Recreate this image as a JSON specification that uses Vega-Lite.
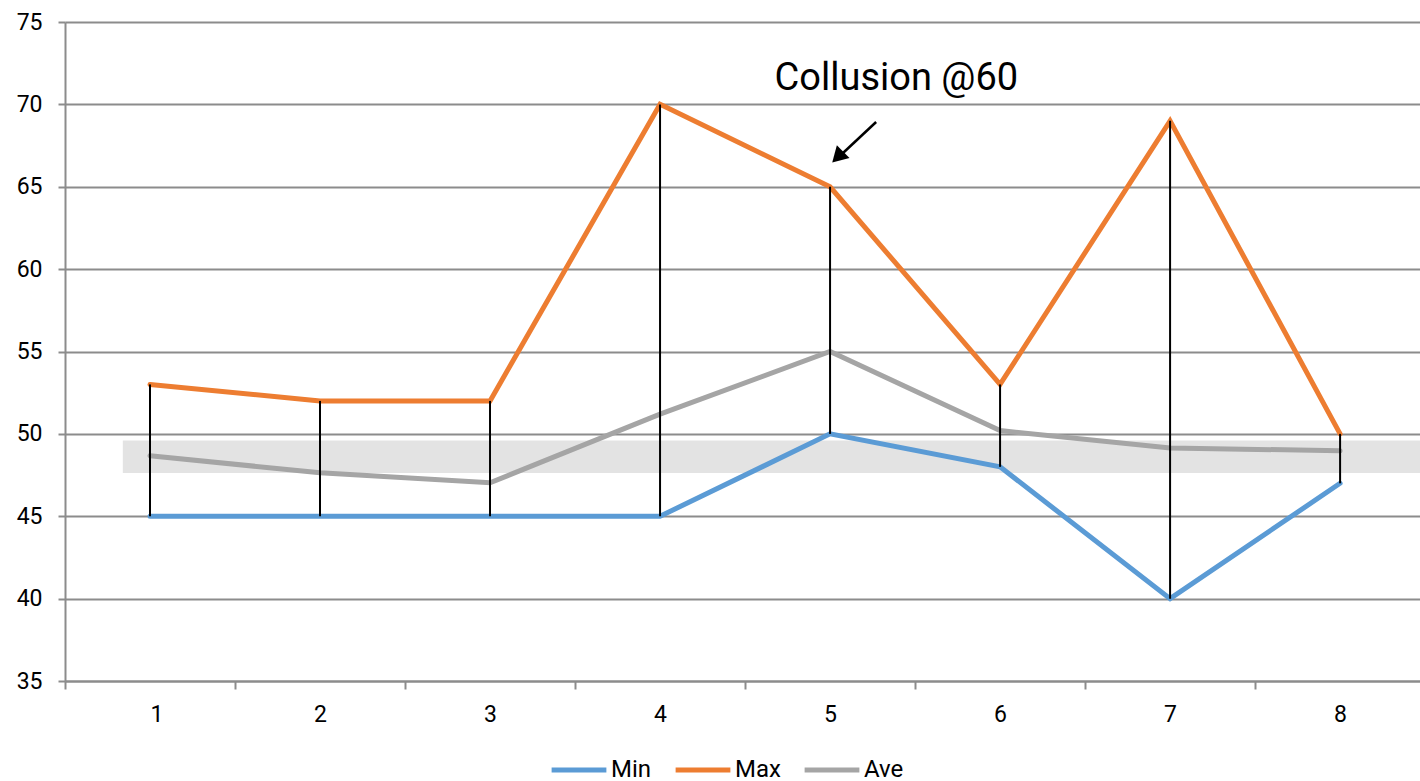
{
  "$schema": "https://vega.github.io/schema/vega-lite/v6.json",
  "autosize": "none",
  "width": 1355,
  "height": 659,
  "padding": {"left": 65, "top": 22, "right": 0, "bottom": 100},
  "background": "white",
  "config": {
    "view": {"stroke": null},
    "font": "Roboto",
    "axis": {
      "labelFont": "Roboto",
      "labelColor": "#000000",
      "labelFontSize": 23,
      "tickColor": "#8c8c8c",
      "tickWidth": 2,
      "domainColor": "#8c8c8c",
      "domainWidth": 2,
      "gridColor": "#8c8c8c",
      "gridWidth": 2,
      "title": null
    },
    "axisX": {"tickSize": 8, "labelPadding": 14, "labelOffset": 85, "grid": false},
    "axisY": {"tickSize": 7, "labelPadding": 16, "grid": true},
    "legend": {"labelFont": "Roboto", "labelFontSize": 24, "labelColor": "#000000"}
  },
  "datasets": {
    "series": [
      {"x": 1, "Min": 45, "Max": 53, "Ave": 48.67},
      {"x": 2, "Min": 45, "Max": 52, "Ave": 47.64},
      {"x": 3, "Min": 45, "Max": 52, "Ave": 47.03},
      {"x": 4, "Min": 45, "Max": 70, "Ave": 51.2},
      {"x": 5, "Min": 50, "Max": 65, "Ave": 55},
      {"x": 6, "Min": 48, "Max": 53, "Ave": 50.2},
      {"x": 7, "Min": 40, "Max": 69, "Ave": 49.15},
      {"x": 8, "Min": 47, "Max": 50, "Ave": 48.97}
    ],
    "band": [{"x1": 0.84, "x2": 8.47, "y1": 47.62, "y2": 49.6}],
    "note": [{"x": 5.39, "y": 71.55, "label": "Collusion @60"}],
    "arrow": [
      {"x": 5.271, "y": 68.93, "o": 1},
      {"x": 5.04, "y": 66.7, "o": 2}
    ],
    "head": [{"x": 5.045, "y": 66.8}]
  },
  "layer": [
    {
      "data": {"name": "band"},
      "mark": {"type": "rect", "color": "#e3e3e3"},
      "encoding": {
        "x": {"field": "x1", "type": "quantitative",
          "scale": {"domain": [0.5, 8.47], "nice": false, "zero": false},
          "axis": {
            "values": [0.5, 1.5, 2.5, 3.5, 4.5, 5.5, 6.5, 7.5],
            "labelExpr": "datum.value + 0.5"
          }},
        "x2": {"field": "x2"},
        "y": {"field": "y1", "type": "quantitative",
          "scale": {"domain": [35, 75], "nice": false, "zero": false},
          "axis": {"values": [35, 40, 45, 50, 55, 60, 65, 70, 75]}},
        "y2": {"field": "y2"}
      }
    },
    {
      "data": {"name": "series"},
      "transform": [{"fold": ["Min", "Max", "Ave"], "as": ["series", "value"]}],
      "mark": {"type": "line", "strokeWidth": 5, "strokeCap": "round", "strokeJoin": "miter"},
      "encoding": {
        "x": {"field": "x", "type": "quantitative"},
        "y": {"field": "value", "type": "quantitative"},
        "color": {
          "field": "series", "type": "nominal",
          "scale": {"domain": ["Min", "Max", "Ave"], "range": ["#5b9bd5", "#ed7d31", "#a5a5a5"]},
          "legend": {
            "orient": "none",
            "direction": "horizontal",
            "legendX": 484,
            "legendY": 718,
            "title": null,
            "symbolType": "stroke",
            "symbolSize": 3000,
            "symbolStrokeWidth": 5,
            "labelOffset": 2,
            "columnPadding": 13
          }
        },
        "order": {"field": "x", "type": "quantitative"}
      }
    },
    {
      "data": {"name": "series"},
      "mark": {"type": "rule", "color": "#000000", "strokeWidth": 2},
      "encoding": {
        "x": {"field": "x", "type": "quantitative"},
        "y": {"field": "Min", "type": "quantitative"},
        "y2": {"field": "Max"}
      }
    },
    {
      "data": {"name": "note"},
      "mark": {"type": "text", "font": "Roboto", "fontSize": 38, "baseline": "middle", "align": "center", "color": "#000000"},
      "encoding": {
        "x": {"field": "x", "type": "quantitative"},
        "y": {"field": "y", "type": "quantitative"},
        "text": {"field": "label"}
      }
    },
    {
      "data": {"name": "arrow"},
      "mark": {"type": "line", "color": "#000000", "strokeWidth": 2.5},
      "encoding": {
        "x": {"field": "x", "type": "quantitative"},
        "y": {"field": "y", "type": "quantitative"},
        "order": {"field": "o", "type": "quantitative"}
      }
    },
    {
      "data": {"name": "head"},
      "mark": {"type": "point", "shape": "triangle-up", "filled": true, "color": "#000000", "size": 320, "angle": 225, "opacity": 1},
      "encoding": {
        "x": {"field": "x", "type": "quantitative"},
        "y": {"field": "y", "type": "quantitative"}
      }
    }
  ]
}
